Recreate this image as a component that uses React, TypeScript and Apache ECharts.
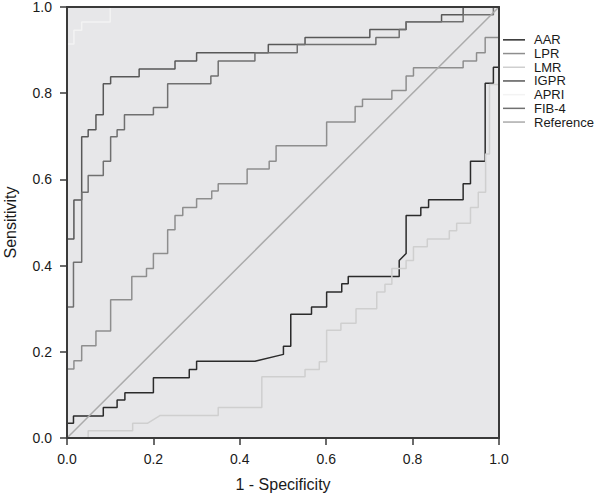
import React, { useEffect, useRef } from "react";
import * as echarts from "echarts";

type Pt = [number, number];

const SERIES_NAMES = ["AAR", "LPR", "LMR", "IGPR", "APRI", "FIB-4", "Reference"];
const SERIES_COLORS = ["#2b2b2b", "#8e8e8e", "#cfcfcf", "#585858", "#f3f3f3", "#707070", "#ababab"];
const X_TICKS = [0, 0.2, 0.4, 0.6, 0.8, 1.0];

const AAR: Pt[] = [
  [0, 0], [0, 0.034], [0.015, 0.034], [0.015, 0.051], [0.084, 0.051], [0.084, 0.071], [0.116, 0.071],
  [0.116, 0.088], [0.134, 0.088], [0.134, 0.105], [0.2, 0.105], [0.2, 0.14], [0.283, 0.14], [0.283, 0.159],
  [0.3, 0.159], [0.3, 0.178], [0.435, 0.178], [0.501, 0.194], [0.501, 0.213], [0.518, 0.213], [0.518, 0.287],
  [0.566, 0.287], [0.566, 0.304], [0.601, 0.304], [0.601, 0.339], [0.636, 0.339], [0.636, 0.358],
  [0.651, 0.358], [0.651, 0.375], [0.769, 0.375], [0.769, 0.412], [0.785, 0.428], [0.785, 0.516],
  [0.819, 0.516], [0.819, 0.535], [0.837, 0.535], [0.837, 0.553], [0.917, 0.553], [0.917, 0.59],
  [0.934, 0.59], [0.934, 0.642], [0.968, 0.642], [0.968, 0.823], [0.987, 0.823], [0.987, 0.86],
  [1, 0.86], [1, 1],
];

const LPR: Pt[] = [
  [0, 0], [0, 0.16], [0.016, 0.16], [0.016, 0.179], [0.034, 0.179], [0.034, 0.214], [0.067, 0.214],
  [0.067, 0.248], [0.101, 0.248], [0.101, 0.321], [0.15, 0.321], [0.15, 0.375], [0.184, 0.375],
  [0.184, 0.393], [0.2, 0.393], [0.2, 0.428], [0.233, 0.428], [0.233, 0.483], [0.25, 0.483], [0.25, 0.516],
  [0.268, 0.516], [0.268, 0.535], [0.3, 0.535], [0.3, 0.555], [0.335, 0.555], [0.335, 0.573], [0.35, 0.573],
  [0.35, 0.59], [0.417, 0.59], [0.417, 0.624], [0.468, 0.624], [0.468, 0.642], [0.484, 0.642],
  [0.484, 0.678], [0.601, 0.678], [0.601, 0.733], [0.667, 0.733], [0.667, 0.769], [0.684, 0.769],
  [0.684, 0.786], [0.752, 0.786], [0.752, 0.806], [0.785, 0.806], [0.785, 0.84], [0.802, 0.84],
  [0.802, 0.859], [0.917, 0.859], [0.917, 0.875], [0.948, 0.875], [0.948, 0.894], [0.968, 0.894],
  [0.968, 0.929], [1, 0.929], [1, 1],
];

const LMR: Pt[] = [
  [0, 0], [0.049, 0], [0.049, 0.017], [0.152, 0.017], [0.152, 0.034], [0.186, 0.034], [0.215, 0.052],
  [0.35, 0.052], [0.35, 0.071], [0.451, 0.071], [0.451, 0.142], [0.551, 0.142], [0.551, 0.159],
  [0.584, 0.159], [0.584, 0.177], [0.601, 0.177], [0.601, 0.25], [0.634, 0.25], [0.634, 0.266],
  [0.669, 0.266], [0.669, 0.3], [0.717, 0.3], [0.717, 0.339], [0.736, 0.339], [0.736, 0.357],
  [0.752, 0.357], [0.752, 0.393], [0.785, 0.393], [0.785, 0.412], [0.802, 0.412], [0.802, 0.444],
  [0.834, 0.444], [0.834, 0.462], [0.885, 0.462], [0.885, 0.481], [0.902, 0.481], [0.902, 0.498],
  [0.934, 0.498], [0.934, 0.535], [0.952, 0.535], [0.952, 0.57], [0.969, 0.57], [0.969, 0.659],
  [0.978, 0.659], [0.978, 0.82], [1, 0.82], [1, 1],
];

const IGPR: Pt[] = [
  [0, 0], [0, 0.462], [0.016, 0.462], [0.016, 0.552], [0.034, 0.552], [0.034, 0.699], [0.049, 0.699],
  [0.049, 0.715], [0.067, 0.715], [0.067, 0.75], [0.084, 0.75], [0.084, 0.822], [0.101, 0.822],
  [0.101, 0.838], [0.167, 0.838], [0.167, 0.856], [0.25, 0.856], [0.25, 0.875], [0.3, 0.875], [0.3, 0.894],
  [0.466, 0.894], [0.466, 0.913], [0.551, 0.913], [0.551, 0.929], [0.701, 0.929], [0.701, 0.948],
  [0.785, 0.948], [0.785, 0.966], [0.867, 0.966], [0.867, 0.982], [0.917, 0.982], [0.917, 1], [1, 1],
];

const APRI: Pt[] = [
  [0, 0], [0, 0.914], [0.016, 0.914], [0.016, 0.946], [0.034, 0.946], [0.034, 0.965], [0.1, 0.965],
  [0.1, 1], [1, 1],
];

const FIB4: Pt[] = [
  [0, 0], [0, 0.304], [0.015, 0.304], [0.015, 0.408], [0.034, 0.408], [0.034, 0.57], [0.049, 0.57],
  [0.049, 0.609], [0.084, 0.609], [0.084, 0.642], [0.101, 0.642], [0.101, 0.699], [0.116, 0.699],
  [0.116, 0.715], [0.133, 0.715], [0.133, 0.75], [0.2, 0.75], [0.2, 0.767], [0.233, 0.767], [0.233, 0.822],
  [0.333, 0.822], [0.333, 0.84], [0.35, 0.84], [0.35, 0.875], [0.435, 0.875], [0.435, 0.894],
  [0.533, 0.894], [0.533, 0.913], [0.715, 0.913], [0.715, 0.929], [0.769, 0.929], [0.769, 0.948],
  [0.785, 0.948], [0.785, 0.966], [0.917, 0.966], [0.917, 0.982], [0.987, 0.982], [0.987, 1], [1, 1],
];

const REFERENCE: Pt[] = [[0, 0], [1, 1]];

const SERIES_DATA: Pt[][] = [AAR, LPR, LMR, IGPR, APRI, FIB4, REFERENCE];

const FONT = "'Liberation Sans', Arial, Helvetica, sans-serif";

export default function App() {
  const ref = useRef<HTMLDivElement>(null);

  useEffect(() => {
    if (!ref.current) return;
    const chart = echarts.init(ref.current, undefined, { renderer: "svg" });
    const lineColor = "#3a3a3a";
    const axisCommon = {
      type: "value" as const,
      min: X_TICKS[0],
      max: X_TICKS[X_TICKS.length - 1],
      interval: 0.2,
      z: 20,
      nameLocation: "middle" as const,
      nameTextStyle: { fontSize: 16, color: "#1a1a1a", fontFamily: FONT },
      axisLine: { show: true, onZero: false, lineStyle: { color: lineColor, width: 2 } },
      axisTick: { show: true, inside: false, length: 7, lineStyle: { color: lineColor, width: 1.5 } },
      axisLabel: {
        fontSize: 14,
        lineHeight: 14,
        color: "#1a1a1a",
        fontFamily: FONT,
        formatter: (v: number) => v.toFixed(1),
      },
      splitLine: { show: false },
    };
    const frameAxis = {
      type: "value" as const,
      min: X_TICKS[0],
      max: X_TICKS[X_TICKS.length - 1],
      interval: 0.2,
      z: 20,
      axisLine: { show: true, onZero: false, lineStyle: { color: lineColor, width: 2 } },
      axisTick: { show: false },
      axisLabel: { show: false },
      splitLine: { show: false },
    };
    chart.setOption({
      animation: false,
      backgroundColor: "#ffffff",
      grid: {
        left: 67,
        top: 7,
        width: 432,
        height: 431,
        show: true,
        backgroundColor: "#e7e7e9",
        borderWidth: 0,
        outerBoundsMode: "none",
        containLabel: false,
      },
      xAxis: [
        {
          ...axisCommon,
          position: "bottom",
          name: "1 - Specificity",
          nameGap: 38,
          axisLabel: { ...axisCommon.axisLabel, margin: 14 },
        },
        { ...frameAxis, position: "top" },
      ],
      yAxis: [
        {
          ...axisCommon,
          position: "left",
          name: "Sensitivity",
          nameGap: 49,
          axisLabel: { ...axisCommon.axisLabel, margin: 15 },
        },
        { ...frameAxis, position: "right" },
      ],
      legend: {
        orient: "vertical",
        left: 503,
        top: 33,
        padding: 0,
        itemGap: 0,
        itemWidth: 22,
        itemHeight: 1.5,
        icon: "rect",
        data: SERIES_NAMES,
        textStyle: {
          fontSize: 13,
          color: "#1a1a1a",
          fontFamily: FONT,
          lineHeight: 13.7,
          padding: [0, 0, 0, 4],
        },
      },
      series: SERIES_NAMES.map((name, i) => ({
        name,
        type: "line",
        xAxisIndex: 0,
        yAxisIndex: 0,
        data: SERIES_DATA[i],
        showSymbol: false,
        symbol: "none",
        color: SERIES_COLORS[i],
        lineStyle: { color: SERIES_COLORS[i], width: 1.5 },
        z: 2 + i,
      })),
    });
    return () => chart.dispose();
  }, []);

  return (
    <div
      ref={ref}
      style={{ position: "absolute", left: 0, top: 0, width: 600, height: 496 }}
    />
  );
}
